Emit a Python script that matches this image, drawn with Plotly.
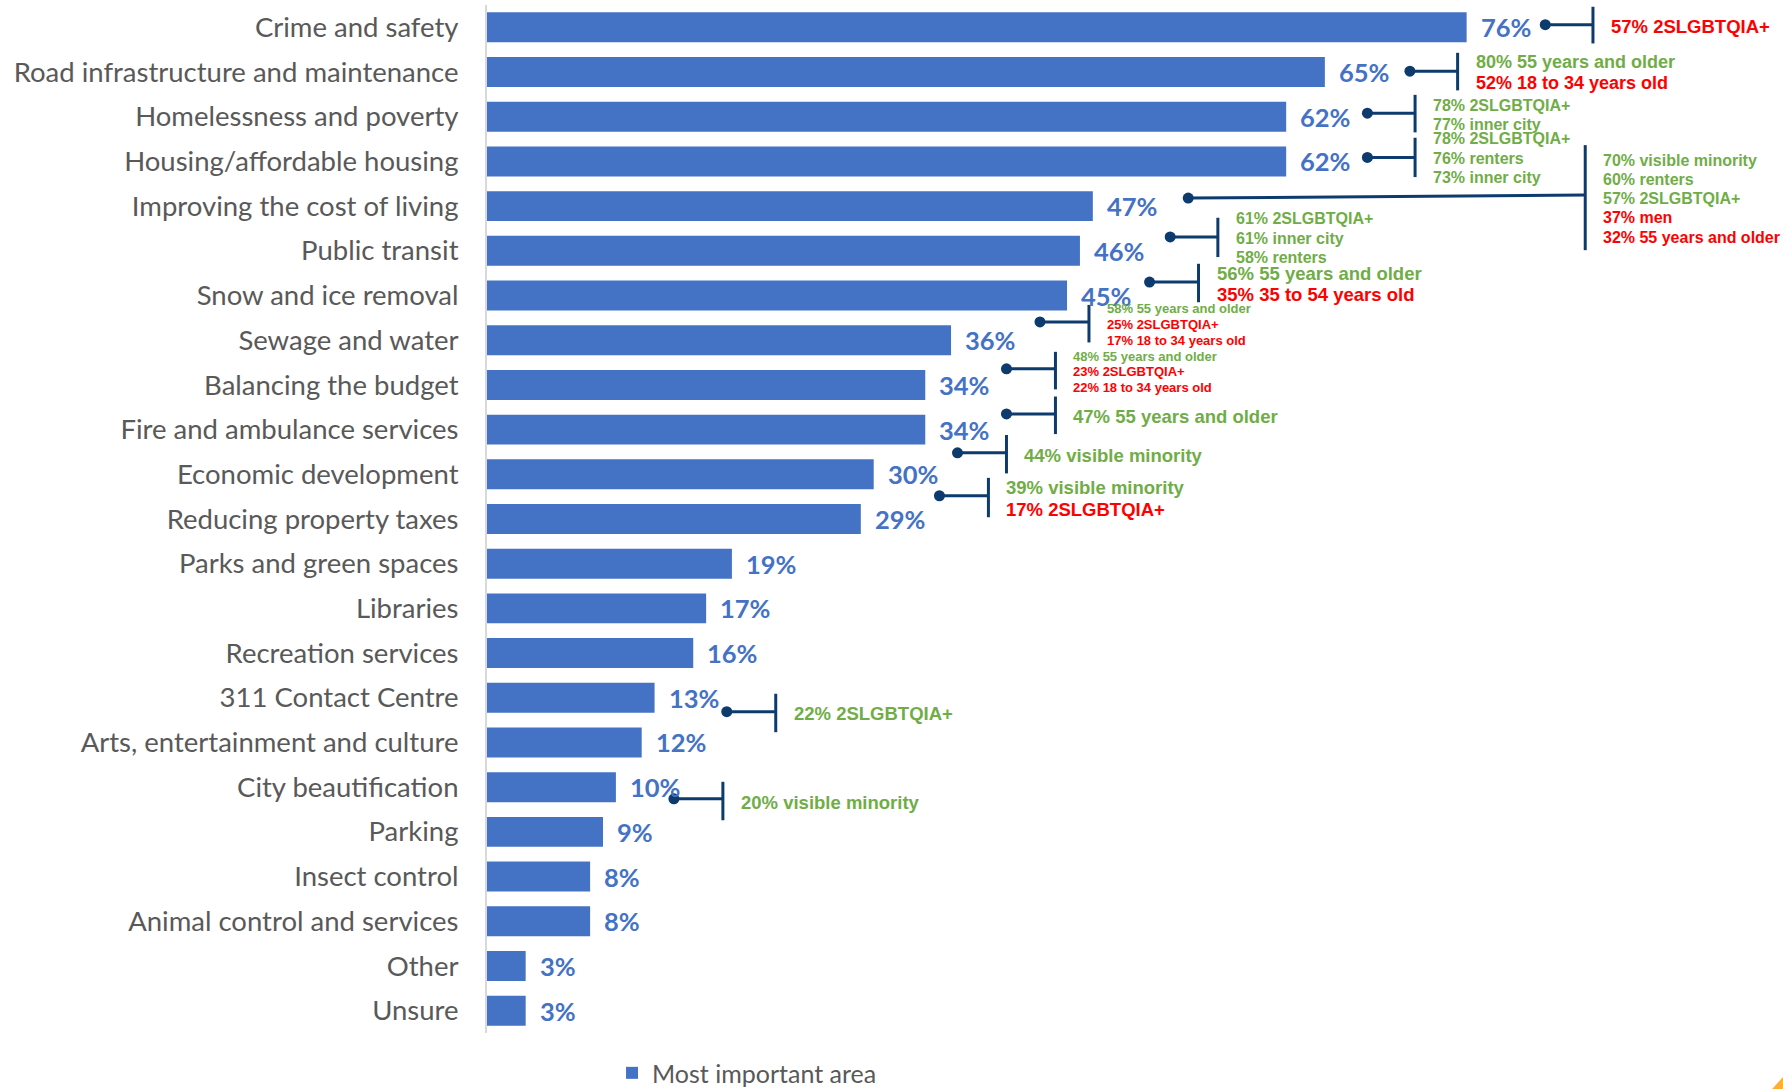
import plotly.graph_objects as go

# Share of residents naming each area as most important (%)
categories = [
    "Crime and safety",
    "Road infrastructure and maintenance",
    "Homelessness and poverty",
    "Housing/affordable housing",
    "Improving the cost of living",
    "Public transit",
    "Snow and ice removal",
    "Sewage and water",
    "Balancing the budget",
    "Fire and ambulance services",
    "Economic development",
    "Reducing property taxes",
    "Parks and green spaces",
    "Libraries",
    "Recreation services",
    "311 Contact Centre",
    "Arts, entertainment and culture",
    "City beautification",
    "Parking",
    "Insect control",
    "Animal control and services",
    "Other",
    "Unsure",
]
values = [76, 65, 62, 62, 47, 46, 45, 36, 34, 34, 30, 29, 19, 17, 16, 13, 12, 10, 9, 8, 8, 3, 3]
series_name = "Most important area"

# Subgroup call-outs: "hi" = notably higher than overall, "lo" = notably lower
callout_rows = [
    "Crime and safety",
    "Road infrastructure and maintenance",
    "Homelessness and poverty",
    "Housing/affordable housing",
    "Improving the cost of living",
    "Public transit",
    "Snow and ice removal",
    "Sewage and water",
    "Balancing the budget",
    "Fire and ambulance services",
    "Economic development",
    "Reducing property taxes",
    "311 Contact Centre",
    "City beautification",
]
callout_lines = [
    ["57% 2SLGBTQIA+"],
    ["80% 55 years and older", "52% 18 to 34 years old"],
    ["78% 2SLGBTQIA+", "77% inner city"],
    ["78% 2SLGBTQIA+", "76% renters", "73% inner city"],
    ["70% visible minority", "60% renters", "57% 2SLGBTQIA+", "37% men", "32% 55 years and older"],
    ["61% 2SLGBTQIA+", "61% inner city", "58% renters"],
    ["56% 55 years and older", "35% 35 to 54 years old"],
    ["58% 55 years and older", "25% 2SLGBTQIA+", "17% 18 to 34 years old"],
    ["48% 55 years and older", "23% 2SLGBTQIA+", "22% 18 to 34 years old"],
    ["47% 55 years and older"],
    ["44% visible minority"],
    ["39% visible minority", "17% 2SLGBTQIA+"],
    ["22% 2SLGBTQIA+"],
    ["20% visible minority"],
]
callout_tones = [
    ["lo"],
    ["hi", "lo"],
    ["hi", "hi"],
    ["hi", "hi", "hi"],
    ["hi", "hi", "hi", "lo", "lo"],
    ["hi", "hi", "hi"],
    ["hi", "lo"],
    ["hi", "lo", "lo"],
    ["hi", "lo", "lo"],
    ["hi"],
    ["hi"],
    ["hi", "lo"],
    ["hi"],
    ["hi"],
]

# Call-out placement: dot x, bracket x, vertical offset from the row,
# dot offset, bracket half-height (rows), font size, line spacing (px)
callout_layout = [
    dict(dot=82.1, stem=85.8, dy=-0.05, ddot=-0.06, half=0.41, size=18.5, gap=0),
    dict(dot=71.6, stem=75.3, dy=-0.01, ddot=-0.02, half=0.42, size=18, gap=21),
    dict(dot=68.3, stem=72.0, dy=-0.07, ddot=-0.08, half=0.42, size=16, gap=19),
    dict(dot=68.3, stem=72.0, dy=-0.09, ddot=-0.09, half=0.44, size=16, gap=19.5),
    dict(dot=54.4, stem=85.2, dy=-0.19, ddot=-0.18, half=1.175, size=16, gap=19.25, dend=-0.25),
    dict(dot=53.0, stem=56.7, dy=-0.30, ddot=-0.31, half=0.44, size=16, gap=19.5),
    dict(dot=51.4, stem=55.2, dy=-0.28, ddot=-0.30, half=0.43, size=18.5, gap=21),
    dict(dot=42.9, stem=46.7, dy=-0.37, ddot=-0.41, half=0.42, size=13, gap=16),
    dict(dot=40.3, stem=44.1, dy=-0.32, ddot=-0.36, half=0.42, size=13, gap=15.5),
    dict(dot=40.3, stem=44.1, dy=-0.32, ddot=-0.35, half=0.42, size=18.5, gap=0),
    dict(dot=36.5, stem=40.3, dy=-0.45, ddot=-0.48, half=0.43, size=18.5, gap=0),
    dict(dot=35.1, stem=38.9, dy=-0.48, ddot=-0.52, half=0.44, size=18.5, gap=22),
    dict(dot=18.6, stem=22.4, dy=0.34, ddot=0.31, half=0.43, size=18.5, gap=0),
    dict(dot=14.5, stem=18.3, dy=0.31, ddot=0.26, half=0.43, size=18.5, gap=0),
]

BAR_BLUE = "#4472C4"
NAVY = "#0D3B6E"
TONE_COLOR = {"hi": "#70AD47", "lo": "#FF0000"}
LABEL_GREY = "#595959"

rows = list(range(len(categories)))
row_of = {c: i for i, c in enumerate(categories)}

fig = go.Figure()

fig.add_trace(go.Bar(
    x=values,
    y=rows,
    orientation="h",
    name=series_name,
    marker=dict(color=BAR_BLUE, line=dict(width=0)),
    width=0.67,
    hoverinfo="skip",
))

annotations = []
shapes = []

# Value labels just past each bar end
for r, v in zip(rows, values):
    annotations.append(dict(
        x=v, y=r, xref="x", yref="y",
        text=f"<b>{v}%</b>", showarrow=False,
        xanchor="left", yanchor="middle", xshift=12,
        font=dict(family="Lato, Open Sans, sans-serif", size=25.5, color=BAR_BLUE),
    ))

# Call-out brackets and subgroup text
dot_x, dot_y = [], []
for cat, lines, tones, g in zip(callout_rows, callout_lines, callout_tones, callout_layout):
    r = row_of[cat]
    yc = r + g["dy"]
    yd = r + g["ddot"]
    ye = r + g.get("dend", g["ddot"])
    dot_x.append(g["dot"])
    dot_y.append(yd)
    shapes.append(dict(type="line", xref="x", yref="y",
                       x0=g["dot"], y0=yd, x1=g["stem"], y1=ye,
                       line=dict(color=NAVY, width=3)))
    shapes.append(dict(type="line", xref="x", yref="y",
                       x0=g["stem"], y0=yc - g["half"], x1=g["stem"], y1=yc + g["half"],
                       line=dict(color=NAVY, width=3)))
    n = len(lines)
    for k, (txt, tone) in enumerate(zip(lines, tones)):
        offset = (k - (n - 1) / 2) * g["gap"]
        annotations.append(dict(
            x=g["stem"], y=yc, xref="x", yref="y",
            text=f"<b>{txt}</b>", showarrow=False,
            xanchor="left", yanchor="middle",
            xshift=16, yshift=-offset - 1,
            font=dict(family="Liberation Sans, Arial, sans-serif", size=g["size"],
                      color=TONE_COLOR[tone]),
        ))

fig.add_trace(go.Scatter(
    x=dot_x, y=dot_y, mode="markers",
    marker=dict(size=11, color=NAVY),
    showlegend=False, hoverinfo="skip",
))

# Corner brand accent
shapes.append(dict(type="path", xref="paper", yref="paper",
                   path="M 0.997 -0.0545 L 1.0054 -0.0428 L 1.0054 -0.0545 Z",
                   fillcolor="#FBB034", line=dict(width=0)))

fig.update_layout(
    width=1783,
    height=1089,
    margin=dict(l=487, r=7, t=5, b=56, autoexpand=False),
    paper_bgcolor="white",
    plot_bgcolor="white",
    bargap=0.33,
    showlegend=True,
    legend=dict(
        orientation="h",
        x=0.097, y=-0.039, xanchor="left", yanchor="middle",
        font=dict(family="Lato, Open Sans, sans-serif", size=25, color=LABEL_GREY),
        bgcolor="rgba(0,0,0,0)",
    ),
    xaxis=dict(range=[0, 100], visible=False, fixedrange=True),
    yaxis=dict(
        range=[len(categories) - 0.5, -0.5],
        tickmode="array",
        tickvals=rows,
        ticktext=categories,
        ticks="",
        ticklabelstandoff=21,
        showgrid=False,
        zeroline=False,
        showline=True,
        linecolor="#D9D9D9",
        linewidth=2,
        tickfont=dict(family="Lato, Open Sans, sans-serif", size=27.5, color=LABEL_GREY),
        fixedrange=True,
    ),
    annotations=annotations,
    shapes=shapes,
)

fig.write_html("out.html")
